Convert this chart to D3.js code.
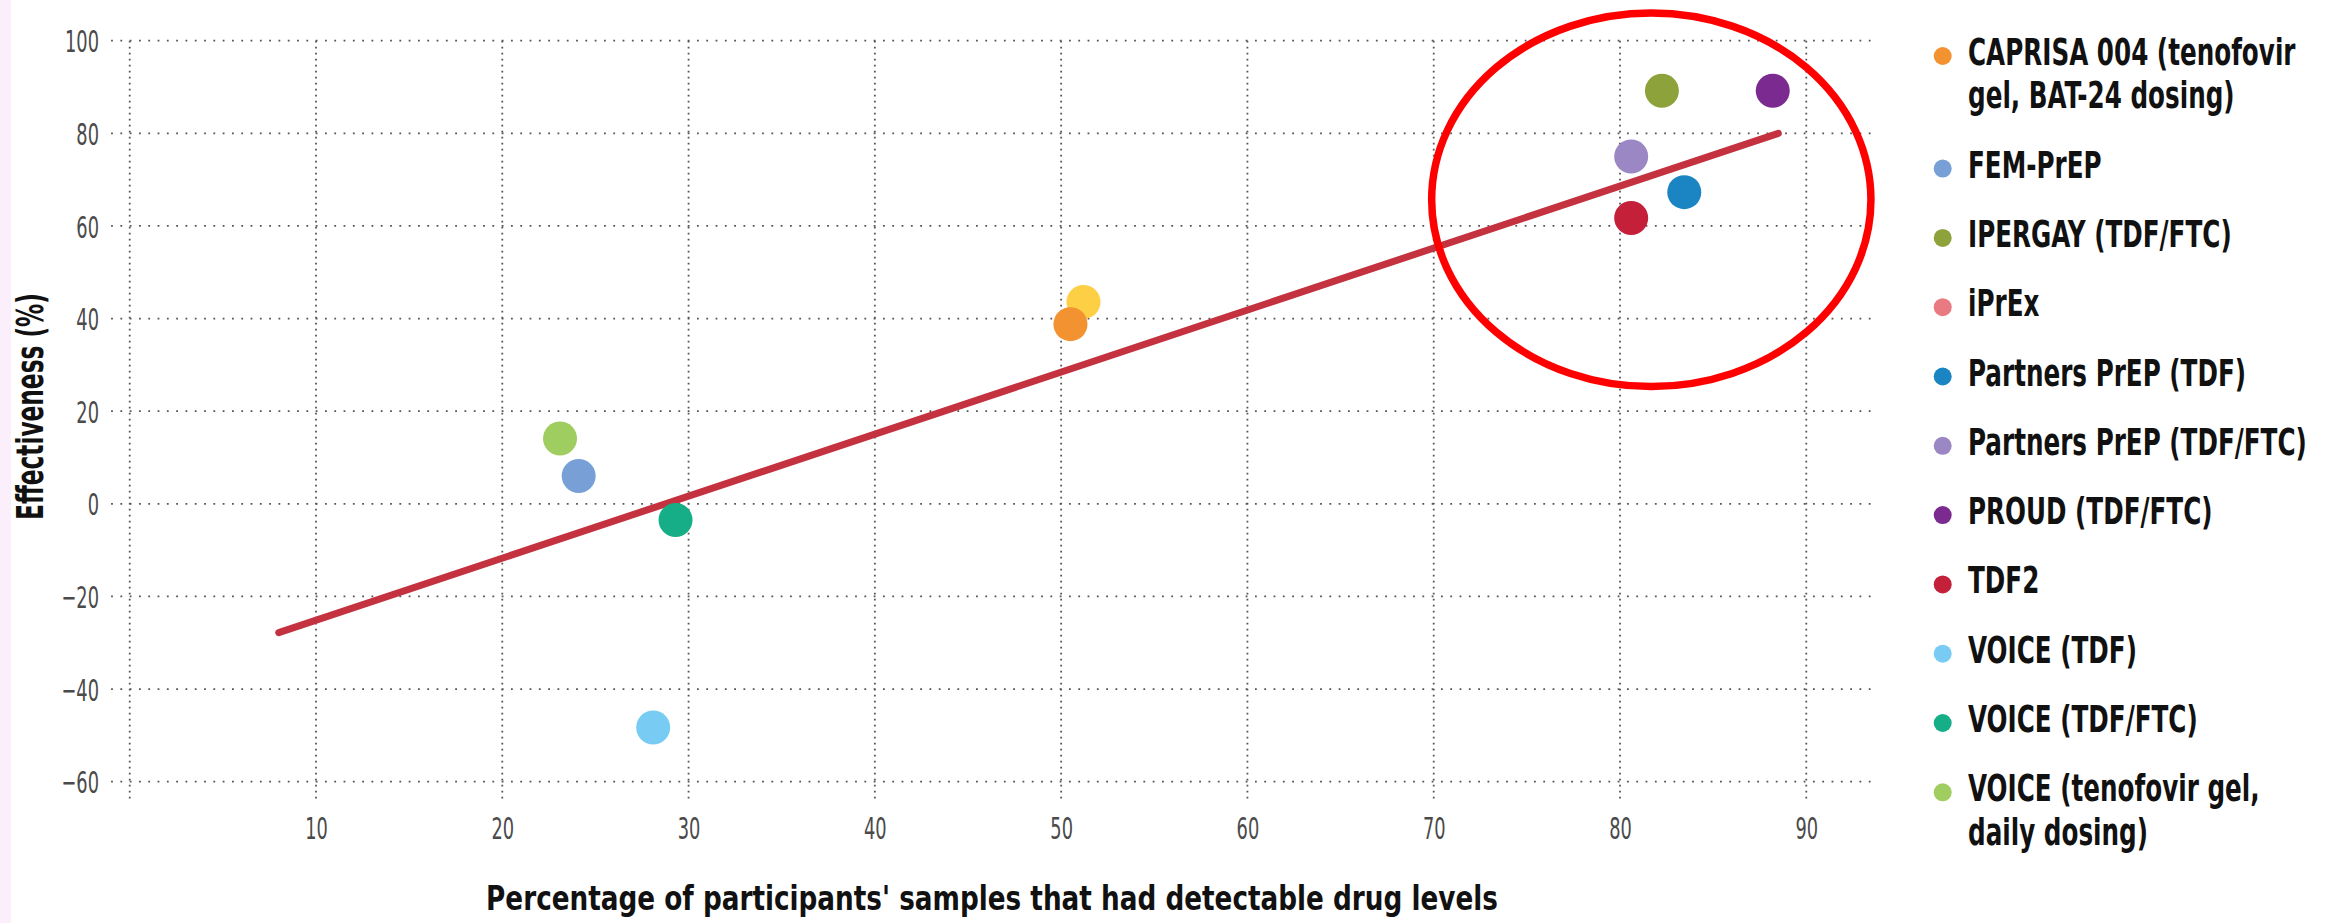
<!DOCTYPE html>
<html><head><meta charset="utf-8">
<script src="https://cdn.jsdelivr.net/npm/d3@7"></script>
<style>html,body{margin:0;padding:0;background:#fff;} svg{display:block;}</style>
</head><body>
<script>
// ---- data ----
const categories = [
  "CAPRISA 004 (tenofovir gel, BAT-24 dosing)",
  "FEM-PrEP",
  "IPERGAY (TDF/FTC)",
  "iPrEx",
  "Partners PrEP (TDF)",
  "Partners PrEP (TDF/FTC)",
  "PROUD (TDF/FTC)",
  "TDF2",
  "VOICE (TDF)",
  "VOICE (TDF/FTC)",
  "VOICE (tenofovir gel, daily dosing)"
];
const detectable    = [50.5, 24.1, 82.25, 51.2, 83.45, 80.6, 88.2, 80.6, 28.1, 29.3, 23.1];
const effectiveness = [38.8, 6.0, 89.2, 43.6, 67.3, 75.0, 89.2, 61.7, -48.3, -3.5, 14.1];
const legendColors = ["#F39230","#789FD6","#8EA23C","#E97A82","#1A85C2","#9B87C4","#7B2A90","#C4203A","#78CCF3","#16AE87","#9FCD5F"];
const pointColors  = ["#F39230","#789FD6","#8EA23C","#FDCF45","#1A85C2","#9B87C4","#7B2A90","#C4203A","#78CCF3","#16AE87","#9FCD5F"];
const xTicks = [10,20,30,40,50,60,70,80,90];
const xGridTicks = [0,10,20,30,40,50,60,70,80,90];
const yTicks = [-60,-40,-20,0,20,40,60,80,100];
const trendX = [8.0, 88.5];
const trendY = [-27.8, 80.0];
const xGridExtent = [-1, 93.85];
const yGridExtent = [-64.5, 100];
const highlightCenter = [81.68, 65.65];
const highlightRadii = [11.79, 40.34];
const xTitle = "Percentage of participants' samples that had detectable drug levels";
const yTitle = "Effectiveness (%)";

// ---- setup ----
const W = 2338, H = 923;
const FONT = "'Liberation Sans Narrow','DejaVu Sans Condensed','Roboto','Liberation Sans',sans-serif";
const svg = d3.select("body").append("svg").attr("width", W).attr("height", H);
svg.append("rect").attr("width", W).attr("height", H).attr("fill", "#fff");
svg.append("rect").attr("x", 0).attr("y", 0).attr("width", 11).attr("height", H).attr("fill", "#fbeffb");

const x = d3.scaleLinear().domain([10, 80]).range([316, 1620]);
const y = d3.scaleLinear().domain([-60, 100]).range([781.7, 40.7]);

function measure(txt, size, weight) {
  const t = svg.append("text").attr("font-family", FONT).attr("font-size", size)
    .attr("font-weight", weight).text(txt);
  const w = t.node().getComputedTextLength();
  t.remove();
  return w;
}

// ---- grid ----
const grid = svg.append("g").attr("stroke", "#555").attr("stroke-width", 1.8);
grid.selectAll("line.h").data(yTicks).join("line").attr("class", "h")
  .attr("x1", x(xGridExtent[0])).attr("x2", x(xGridExtent[1]))
  .attr("y1", d => y(d)).attr("y2", d => y(d))
  .attr("stroke-dasharray", "1.8 7.5");
grid.selectAll("line.v").data(xGridTicks).join("line").attr("class", "v")
  .attr("x1", d => x(d)).attr("x2", d => x(d))
  .attr("y1", y(yGridExtent[1])).attr("y2", y(yGridExtent[0]))
  .attr("stroke-dasharray", "1.8 4.2");

// ---- axes tick labels ----
const tickSize = 31;
const tickSx = 34 / measure("100", tickSize, 400);
const yAxis = svg.append("g").attr("transform", "translate(99,0)")
  .call(d3.axisLeft(y).tickValues(yTicks).tickSize(0).tickPadding(0).tickFormat(d3.format("d")));
yAxis.select(".domain").remove();
yAxis.selectAll("text").attr("font-family", FONT).attr("font-size", tickSize)
  .attr("fill", "#4a4a4a").attr("x", 0).attr("dy", "0.36em")
  .attr("transform", `scale(${tickSx},1)`);

const xAxis = svg.append("g").attr("transform", "translate(0,827.5)")
  .call(d3.axisBottom(x).tickValues(xTicks).tickSize(0).tickPadding(0).tickFormat(d3.format("d")));
xAxis.select(".domain").remove();
xAxis.selectAll("text").attr("font-family", FONT).attr("font-size", tickSize)
  .attr("fill", "#4a4a4a").attr("y", 0).attr("dy", "0.36em")
  .attr("transform", `scale(${tickSx},1)`);

// ---- titles ----
const xtSize = 34;
const xtSx = 1012 / measure(xTitle, xtSize, 700);
svg.append("text").attr("font-family", FONT).attr("font-size", xtSize).attr("font-weight", 700)
  .attr("fill", "#111").attr("text-anchor", "middle")
  .attr("transform", `translate(992,910) scale(${xtSx},1)`).text(xTitle);

const ytSize = 37;
const ytSx = 227 / measure(yTitle, ytSize, 700);
svg.append("text").attr("font-family", FONT).attr("font-size", ytSize).attr("font-weight", 700)
  .attr("fill", "#111").attr("text-anchor", "middle")
  .attr("transform", `translate(42.5,406.5) rotate(-90) scale(${ytSx},1)`).text(yTitle);

// ---- trend line ----
svg.append("path")
  .datum(trendX.map((d, i) => [d, trendY[i]]))
  .attr("d", d3.line().x(d => x(d[0])).y(d => y(d[1])))
  .attr("fill", "none").attr("stroke", "#C3323E").attr("stroke-width", 7).attr("stroke-linecap", "round");

// ---- points ----
const idx = d3.range(categories.length).reverse();
svg.append("g").selectAll("circle").data(idx).join("circle")
  .attr("cx", i => x(detectable[i])).attr("cy", i => y(effectiveness[i]))
  .attr("r", 17).attr("fill", i => pointColors[i]);

// ---- highlight ellipse ----
svg.append("ellipse")
  .attr("cx", x(highlightCenter[0])).attr("cy", y(highlightCenter[1]))
  .attr("rx", x(highlightCenter[0] + highlightRadii[0]) - x(highlightCenter[0]))
  .attr("ry", y(highlightCenter[1] - highlightRadii[1]) - y(highlightCenter[1]))
  .attr("fill", "none").attr("stroke", "#FF0000").attr("stroke-width", 7.5);

// ---- legend ----
const lgSize = 37;
const lgSx = 339 / measure("Partners PrEP (TDF/FTC)", lgSize, 700);
const lgMax = 346, lineH = 43.3, entryGap = 69.3;
let cy = 56;
const legend = svg.append("g");
categories.forEach((name, i) => {
  legend.append("circle").attr("cx", 1942.7).attr("cy", cy).attr("r", 9).attr("fill", legendColors[i]);
  const t = legend.append("text").attr("font-family", FONT).attr("font-size", lgSize)
    .attr("font-weight", 700).attr("fill", "#111")
    .attr("transform", `translate(1968,${cy + 9}) scale(${lgSx},1)`);
  const words = name.split(" ");
  let line = [], lineNo = 0;
  let tspan = t.append("tspan").attr("x", 0).attr("dy", 0);
  words.forEach(w => {
    line.push(w);
    tspan.text(line.join(" "));
    if (tspan.node().getComputedTextLength() * lgSx > lgMax && line.length > 1) {
      line.pop();
      tspan.text(line.join(" "));
      line = [w];
      lineNo++;
      tspan = t.append("tspan").attr("x", 0).attr("dy", lineH / lgSx === 0 ? 0 : lineH).text(w);
    }
  });
  cy += entryGap + lineNo * lineH;
});
</script>
</body></html>
